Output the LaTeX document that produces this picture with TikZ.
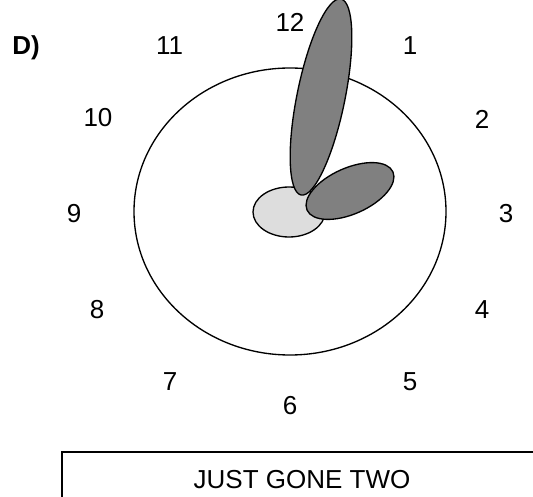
\documentclass[tikz,border=0pt]{standalone}
\usepackage{fontspec}
\setmainfont{Liberation Sans}
\usetikzlibrary{positioning, calc}
\definecolor{Hand}{HTML}{808080}
\definecolor{Hub}{HTML}{DDDDDD}
\tikzset{
    numlabel/.style={inner sep=0pt, font=\fontsize{19.5}{23}\selectfont, text=black},
    face/.style={draw=black, line width=1pt, fill=white},
    handshape/.style={draw=black, line width=1pt, fill=Hand},
    hubshape/.style={draw=black, line width=1pt, fill=Hub},
}

\begin{document}
\begin{tikzpicture}[x=0.75pt, y=0.75pt]
    \useasboundingbox (0,0) rectangle (533,497);

    \coordinate (C) at (290,285.5);   % centro del quadrante

    % Quadrante
    \draw[face] (C) ellipse [x radius=156, y radius=143.5];

    % Lancette
    \draw[hubshape] (289,285) ellipse [x radius=36, y radius=25];
    \draw[handshape, rotate around={78.5:(321,400)}] (321,400) ellipse [x radius=100, y radius=24];
    \draw[handshape, rotate around={24:(350,306)}] (350,306) ellipse [x radius=47, y radius=23];

    % Numeri
    \node[numlabel] (n12) at (290,475) {12};
    \node[numlabel] (n1) at (410,451) {1};
    \node[numlabel] (n2) at (482,378) {2};
    \node[numlabel] (n3) at (506,283) {3};
    \node[numlabel] (n4) at (482,187) {4};
    \node[numlabel] (n5) at (410,115) {5};
    \node[numlabel] (n6) at (290,91) {6};
    \node[numlabel] (n7) at (170,115) {7};
    \node[numlabel] (n8) at (97,187) {8};
    \node[numlabel] (n9) at (74,283) {9};
    \node[numlabel] (n10) at (98,379) {10};
    \node[numlabel] (n11) at (169.5,451) {11};

    % Etichetta
    \node[numlabel, font=\fontsize{19.5}{23}\selectfont\bfseries, anchor=base] (tag) at (26,442) {D)};

    % Riquadro risposta
    \coordinate (BoxA) at (62,-5);
    \coordinate (BoxB) at (62,45);
    \coordinate (BoxC) at (540,45);
    \draw[line width=1pt] (BoxA) -- (BoxB) -- (BoxC);
    \node[numlabel] (answer) at (302,17) {JUST GONE TWO};
\end{tikzpicture}
\end{document}
